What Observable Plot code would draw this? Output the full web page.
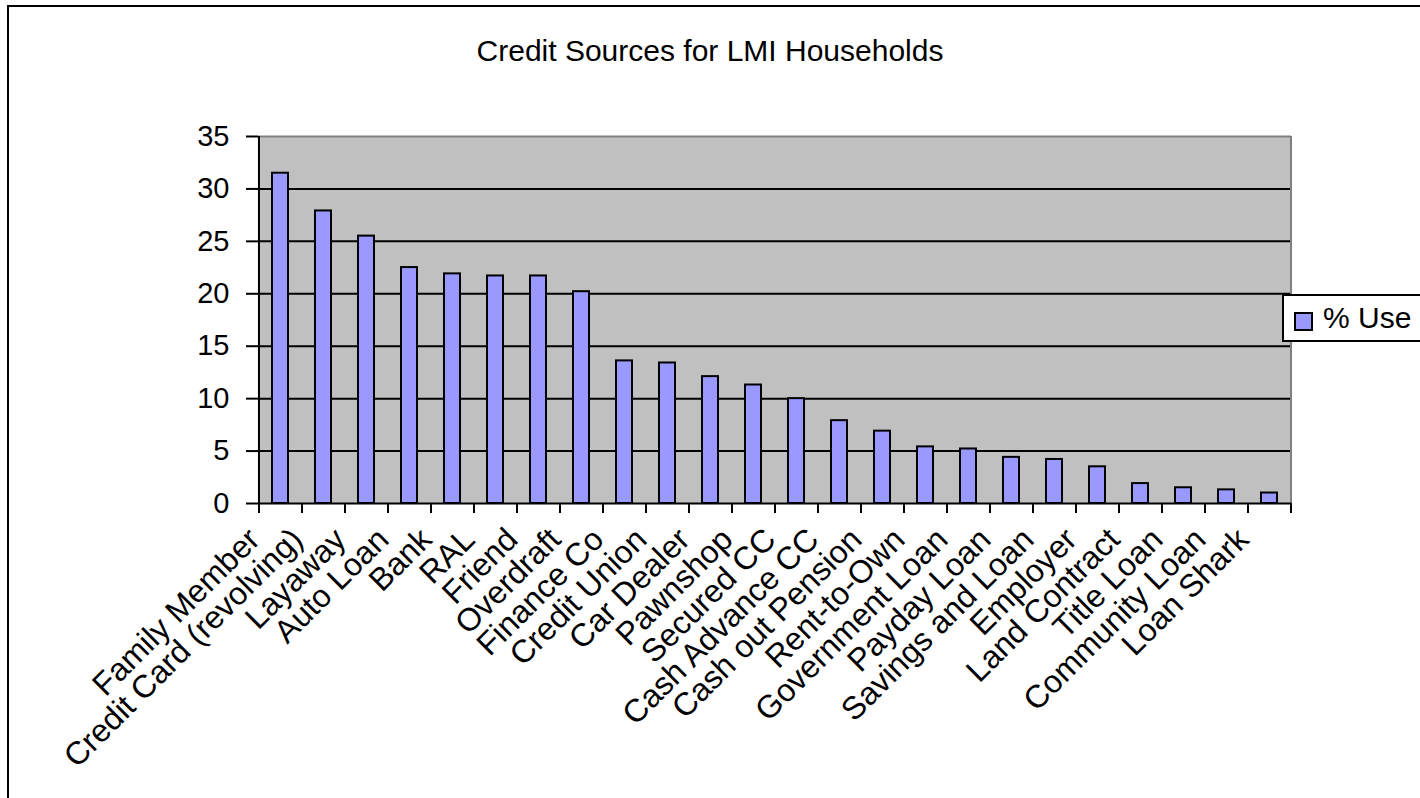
<!DOCTYPE html>
<html>
<head>
<meta charset="utf-8">
<script src="https://cdn.jsdelivr.net/npm/d3@7"></script>
<script src="https://cdn.jsdelivr.net/npm/@observablehq/plot@0.6"></script>
<style>
  html, body { margin: 0; padding: 0; width: 1420px; height: 798px; overflow: hidden; background: #fff; }
  body { position: relative; font-family: "Liberation Sans", Arial, sans-serif; }
  #border { position: absolute; left: 7px; top: 5px; width: 1500px; height: 900px; border: 2px solid #000; box-sizing: border-box; }
  #title { position: absolute; left: 0; top: 36px; width: 1420px; text-align: center; font-size: 30px; line-height: 30px; color: #000; }
  #chart { position: absolute; left: 0; top: 0; }
  #legend { position: absolute; left: 1282px; top: 294px; width: 170px; height: 48px; border: 2px solid #000; box-sizing: border-box; background: #fff; }
  #legend .sw { position: absolute; left: 10px; top: 16px; width: 19px; height: 19px; background: #9999FF; border: 2px solid #000; box-sizing: border-box; }
  #legend .lb { position: absolute; left: 39px; top: 7px; font-size: 30px; line-height: 30px; white-space: nowrap; }
</style>
</head>
<body>
<div id="border"></div>
<div id="chart"></div>
<div id="title">Credit Sources for LMI Households</div>
<div id="legend"><div class="sw"></div><div class="lb">% Use</div></div>
<script>
const categories = ["Family Member","Credit Card (revolving)","Layaway","Auto Loan","Bank","RAL","Friend","Overdraft","Finance Co","Credit Union","Car Dealer","Pawnshop","Secured CC","Cash Advance CC","Cash out Pension","Rent-to-Own","Government Loan","Payday Loan","Savings and Loan","Employer","Land Contract","Title Loan","Community Loan","Loan Shark"];
const values = [31.5, 27.9, 25.5, 22.5, 21.9, 21.7, 21.7, 20.2, 13.6, 13.4, 12.1, 11.3, 10.0, 7.9, 6.9, 5.4, 5.2, 4.4, 4.2, 3.5, 1.9, 1.5, 1.3, 1.0];
const yTicks = [0, 5, 10, 15, 20, 25, 30, 35];
const seriesName = "% Use";

const data = categories.map((c, i) => ({cat: c, val: values[i]}));

const W = 1420, H = 798, mL = 258, mR = 129, mT = 136, mB = 295;
const step = (W - mL - mR) / categories.length;

const chart = Plot.plot({
  width: W, height: H,
  marginLeft: mL, marginRight: mR, marginTop: mT, marginBottom: mB,
  style: {background: "transparent", fontFamily: "'Liberation Sans', Arial, sans-serif", fontSize: "30px", color: "#000"},
  x: {type: "band", domain: categories, paddingInner: 0.63, paddingOuter: 0.315, axis: null, label: null},
  y: {domain: [0, 35], axis: null, label: null},
  marks: [
    Plot.frame({fill: "#C0C0C0", stroke: null}),
    Plot.ruleY(yTicks.filter(t => t > 0 && t < 35), {stroke: "#000", strokeWidth: 2}),
    Plot.barY(data, {x: "cat", y: "val", fill: "#9999FF", stroke: "#000", strokeWidth: 2}),
    Plot.ruleY([35], {stroke: "#808080", strokeWidth: 2}),
    Plot.ruleX([categories[categories.length - 1]], {dx: step / 2, stroke: "#808080", strokeWidth: 2}),
    Plot.ruleX([categories[0]], {dx: -step / 2, stroke: "#000", strokeWidth: 2}),
    Plot.ruleY([0], {stroke: "#000", strokeWidth: 2}),
    Plot.axisY({ticks: yTicks, tickSize: 12, tickPadding: 17, fontSize: 29, strokeWidth: 2, label: null, tickFormat: d => String(d)}),
    Plot.axisX({tickSize: 10, tickFormat: () => "", dx: -step / 2, strokeWidth: 2, label: null}),
    Plot.axisX({ticks: [categories[categories.length - 1]], tickSize: 10, tickFormat: () => "", dx: step / 2, strokeWidth: 2, label: null}),
    Plot.text(categories, {x: d => d, frameAnchor: "bottom", rotate: -45, textAnchor: "end", dx: -19, dy: 38, fontSize: 32, fill: "#000"})
  ]
});
document.getElementById("chart").appendChild(chart);
document.querySelector("#legend .lb").textContent = seriesName;
</script>
</body>
</html>
